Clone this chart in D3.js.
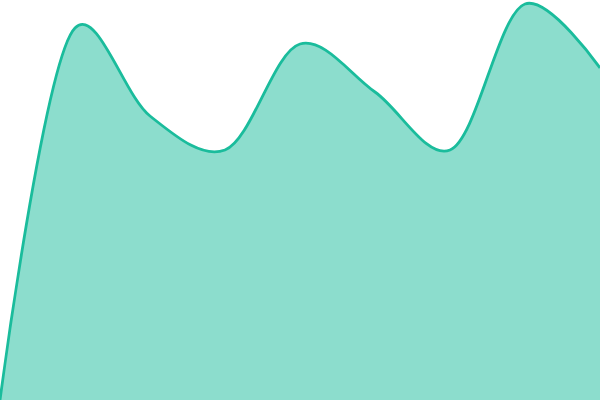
<!DOCTYPE html>
<html>
<head>
<meta charset="utf-8">
<script src="https://cdn.jsdelivr.net/npm/d3@7"></script>
<style>
  html, body { margin: 0; padding: 0; background: #fff; }
  svg { display: block; }
</style>
</head>
<body>
<svg id="chart" width="600" height="400"></svg>
<script>
// points along the x axis, evenly spaced
var steps = [0, 1, 2, 3, 4, 5, 6, 7, 8];
// values (0-100 scale)
var values = [0, 93, 71, 62.5, 89, 77, 62.5, 99, 83];

var width = 600, height = 400;

var x = d3.scaleLinear().domain([0, 8]).range([0, width]);
var y = d3.scaleLinear().domain([0, 100]).range([height, 0]);

var data = steps.map(function (s, i) { return { s: s, v: values[i] }; });

var svg = d3.select("#chart");

var curve = d3.curveCatmullRom.alpha(0.25);

var area = d3.area()
  .x(function (d) { return x(d.s); })
  .y0(y(0))
  .y1(function (d) { return y(d.v); })
  .curve(curve);

var line = d3.line()
  .x(function (d) { return x(d.s); })
  .y(function (d) { return y(d.v); })
  .curve(curve);

svg.append("path")
  .datum(data)
  .attr("d", area)
  .attr("fill", "#1abc9c")
  .attr("fill-opacity", 0.5);

svg.append("path")
  .datum(data)
  .attr("d", line)
  .attr("fill", "none")
  .attr("stroke", "#1abc9c")
  .attr("stroke-width", 2.8);
</script>
</body>
</html>
